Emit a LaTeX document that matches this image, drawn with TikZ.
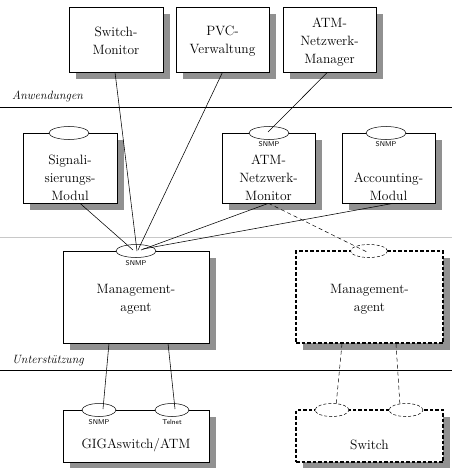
\documentclass[tikz,border=0pt]{standalone}
\usetikzlibrary{shapes.geometric,calc}
\definecolor{sepgray}{RGB}{200,200,200}
\definecolor{shadowgray}{RGB}{145,145,145}
\begin{document}
\begin{tikzpicture}[x=1pt,y=-1pt,
  box/.style={draw, fill=white, line width=0.6pt, inner sep=0pt},
  dbox/.style={box, line width=1.3pt, dash pattern=on 3.5pt off 2pt},
  txt/.style={align=center, inner sep=0pt, font=\fontsize{13.5}{18}\selectfont},
  port/.style={draw, fill=white, ellipse, line width=0.5pt, inner sep=0pt,
    minimum width=40pt, minimum height=13pt},
  sport/.style={port, minimum width=34pt},
  dport/.style={port, dash pattern=on 3pt off 2pt},
  dsport/.style={sport, dash pattern=on 3pt off 2pt},
  plab/.style={inner sep=0pt, font=\sffamily\fontsize{7}{8}\selectfont},
  layerlabel/.style={inner sep=0pt, anchor=base west, font=\itshape\fontsize{12}{14}\selectfont},
  conn/.style={line width=0.55pt},
  dconn/.style={line width=0.5pt, dash pattern=on 4pt off 3pt}]
\useasboundingbox (0,0) rectangle (452,468);

% layer separators
\draw[sepgray, line width=0.6pt] (0,237) -- (452,237);
\draw[line width=0.6pt] (0,107) -- (452,107);
\draw[line width=0.6pt] (0,370) -- (452,370);
\node[layerlabel] (anw) at (12,100) {Anwendungen};
\node[layerlabel] (unt) at (12,363) {Unterstützung};

% drop shadows (7pt right and down)
\fill[shadowgray] (76,14) rectangle (170,79);
\fill[shadowgray] (183,14) rectangle (276,79);
\fill[shadowgray] (290,14) rectangle (383,79);
\fill[shadowgray] (30,140) rectangle (124,210);
\fill[shadowgray] (229,140) rectangle (322,210);
\fill[shadowgray] (349,140) rectangle (442,210);
\fill[shadowgray] (70,258) rectangle (216,350);
\fill[shadowgray] (303,258) rectangle (450,350);
\fill[shadowgray] (70,417) rectangle (216,468);
\fill[shadowgray] (303,417) rectangle (450,468);

% top row
\node[box, minimum width=94pt, minimum height=65pt] (sm) at (116,39.5) {};
\node[txt] (smt) at (116,41) {Switch-\\Monitor};
\node[box, minimum width=93pt, minimum height=65pt] (pvc) at (222.5,39.5) {};
\node[txt] (pvct) at (222.5,41) {PVC-\\Verwaltung};
\node[box, minimum width=93pt, minimum height=65pt] (mgr) at (329.5,39.5) {};
\node[txt] (mgrt) at (329.5,42) {ATM-\\Netzwerk-\\Manager};

% second row
\node[box, minimum width=94pt, minimum height=70pt] (sig) at (70,168) {};
\node[txt] (sigt) at (70,178) {Signali-\\sierungs-\\Modul};
\node[port] (sige) at (69,133) {};
\node[box, minimum width=93pt, minimum height=70pt] (mon) at (268.5,168) {};
\node[txt] (mont) at (268.5,178) {ATM-\\Netzwerk-\\Monitor};
\node[port] (mone) at (269,133) {};
\node[plab] (monl) at (269,144) {SNMP};
\node[box, minimum width=93pt, minimum height=70pt] (acc) at (388.5,168) {};
\node[txt] (acct) at (388.5,187) {Accounting-\\Modul};
\node[port] (acce) at (386,133) {};
\node[plab] (accl) at (386,144) {SNMP};

% management agents
\node[box, minimum width=146pt, minimum height=92pt] (ma) at (136,297) {};
\node[txt] (mat) at (136,299) {Management-\\agent};
\node[port] (mae) at (136,251) {};
\node[plab] (mal) at (136,263) {SNMP};
\node[dbox, minimum width=147pt, minimum height=92pt] (dma) at (369.5,297) {};
\node[txt] (dmat) at (369.5,299) {Management-\\agent};
\node[dport, minimum width=37pt] (dmae) at (369,251) {};

% switches
\node[box, minimum width=146pt, minimum height=52pt] (gs) at (136,436) {};
\node[txt] (gst) at (136,445) {GIGAswitch/ATM};
\node[sport] (gse1) at (99,410) {};
\node[plab] (gsl1) at (99,422) {SNMP};
\node[sport] (gse2) at (172,410) {};
\node[plab] (gsl2) at (172,422) {Telnet};
\node[dbox, minimum width=147pt, minimum height=52pt] (sw) at (369.5,436) {};
\node[txt] (swt) at (369.5,445) {Switch};
\node[dsport] (swe1) at (332,410) {};
\node[dsport] (swe2) at (406,410) {};

% connectors
\draw[conn] ($(sm.south)+(-1,0)$) -- ($(mae.center)+(1,0)$);
\draw[conn] (pvc.south) -- ($(mae.center)+(2,-1)$);
\draw[conn] ($(mgr.south)+(-2,0)$) -- ($(mone.center)+(-1,-1)$);
\draw[conn] ($(sig.south)+(10,0)$) -- ($(mae.center)+(-3,-1)$);
\draw[conn] (mon.south) -- ($(mae.center)+(5,-1)$);
\draw[conn] ($(acc.south)+(5,0)$) -- ($(mae.center)+(7,-2)$);
\draw[dconn] (mon.south) -- ($(dmae.center)+(-2,1)$);
\draw[conn] ($(ma.south)+(-27,0)$) -- ($(gse1.center)+(4,-1)$);
\draw[conn] ($(ma.south)+(32,0)$) -- ($(gse2.center)+(3,-1)$);
\draw[dconn] ($(dma.south)+(-27.5,0)$) -- ($(swe1.center)+(4,-4)$);
\draw[dconn] ($(dma.south)+(26.5,0)$) -- ($(swe2.center)+(-6,-4)$);
\end{tikzpicture}
\end{document}
